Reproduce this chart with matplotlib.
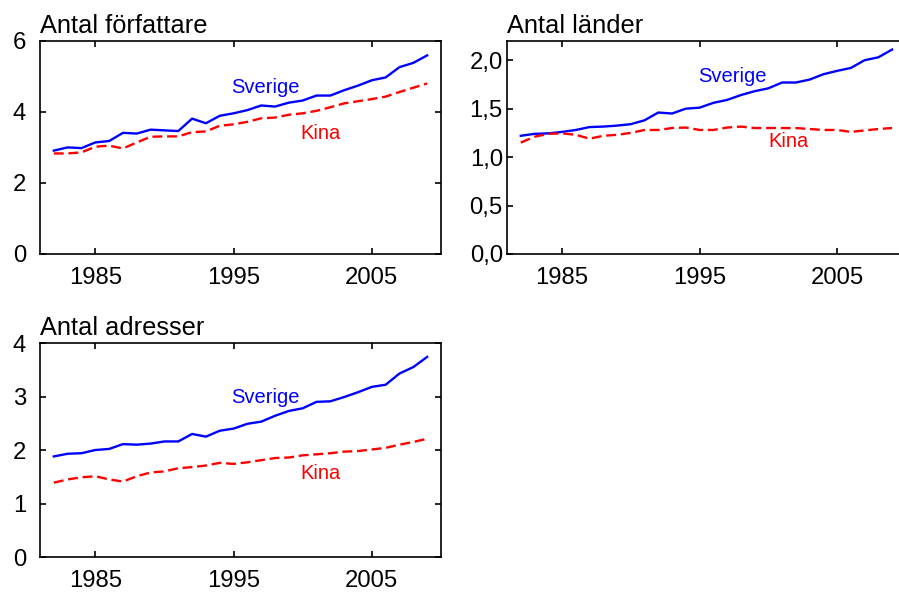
import numpy as np
import matplotlib
matplotlib.use("Agg")
import matplotlib.pyplot as plt
from matplotlib.ticker import FuncFormatter

plt.rcParams['font.family'] = ['Liberation Sans', 'DejaVu Sans']

years = np.arange(1982, 2010)

# Antal författare
forf_sverige = [2.91, 3.00, 2.98, 3.14, 3.18, 3.41, 3.39, 3.50, 3.48, 3.46,
                3.81, 3.68, 3.89, 3.96, 4.05, 4.18, 4.15, 4.26, 4.32, 4.46,
                4.46, 4.61, 4.74, 4.89, 4.97, 5.26, 5.38, 5.59]
forf_kina = [2.83, 2.83, 2.86, 3.02, 3.05, 2.97, 3.14, 3.30, 3.31, 3.31,
             3.43, 3.45, 3.61, 3.65, 3.72, 3.82, 3.84, 3.92, 3.96, 4.03,
             4.13, 4.24, 4.30, 4.36, 4.43, 4.56, 4.68, 4.80]

# Antal länder
land_sverige = [1.22, 1.24, 1.245, 1.26, 1.28, 1.31, 1.315, 1.325, 1.34, 1.38,
                1.46, 1.45, 1.50, 1.51, 1.56, 1.59, 1.64, 1.68, 1.71, 1.77,
                1.77, 1.80, 1.855, 1.89, 1.92, 2.00, 2.03, 2.11]
land_kina = [1.15, 1.21, 1.24, 1.245, 1.23, 1.19, 1.22, 1.23, 1.25, 1.28,
             1.28, 1.30, 1.305, 1.28, 1.28, 1.305, 1.315, 1.30, 1.30, 1.30,
             1.30, 1.29, 1.28, 1.28, 1.26, 1.275, 1.29, 1.30]

# Antal adresser
adr_sverige = [1.88, 1.93, 1.94, 2.00, 2.02, 2.11, 2.10, 2.12, 2.16, 2.16,
               2.30, 2.25, 2.36, 2.40, 2.49, 2.53, 2.64, 2.73, 2.78, 2.90,
               2.91, 2.99, 3.08, 3.18, 3.22, 3.43, 3.55, 3.74]
adr_kina = [1.39, 1.45, 1.49, 1.51, 1.45, 1.41, 1.51, 1.58, 1.60, 1.66,
            1.68, 1.71, 1.76, 1.74, 1.77, 1.81, 1.85, 1.86, 1.90, 1.92,
            1.94, 1.97, 1.98, 2.01, 2.04, 2.10, 2.15, 2.21]

titles = ["Antal författare", "Antal länder", "Antal adresser"]
xticks = [1985, 1995, 2005]

fig = plt.figure(figsize=(8.99, 5.92), dpi=100)

panels = [
    dict(rect=[0.0445, 0.571, 0.446, 0.360], sv=forf_sverige, ki=forf_kina,
         ylim=(0, 6), yticks=[0, 2, 4, 6], fmt=lambda v, p: f"{v:.0f}",
         ypad=10, sv_lab=(1997.3, 4.7), ki_lab=(2001.3, 3.4)),
    dict(rect=[0.564, 0.571, 0.4436, 0.360], sv=land_sverige, ki=land_kina,
         ylim=(0, 2.2), yticks=[0, 0.5, 1.0, 1.5, 2.0],
         fmt=lambda v, p: f"{v:.1f}".replace(".", ","),
         ypad=3, sv_lab=(1997.4, 1.83), ki_lab=(2001.5, 1.16)),
    dict(rect=[0.0445, 0.0591, 0.446, 0.3615], sv=adr_sverige, ki=adr_kina,
         ylim=(0, 4), yticks=[0, 1, 2, 3, 4], fmt=lambda v, p: f"{v:.0f}",
         ypad=10, sv_lab=(1997.3, 2.99), ki_lab=(2001.3, 1.57)),
]

for title, p in zip(titles, panels):
    ax = fig.add_axes(p["rect"])
    ax.plot(years, p["sv"], color="#0000ff", lw=1.7)
    ax.plot(years, p["ki"], color="#ff0000", lw=1.7, dashes=(4.2, 2.0))
    ax.set_xlim(1981, 2010)
    ax.set_ylim(*p["ylim"])
    ax.set_xticks(xticks)
    ax.set_yticks(p["yticks"])
    ax.yaxis.set_major_formatter(FuncFormatter(p["fmt"]))
    ax.tick_params(direction="in", length=4, width=1.2, top=True, right=True,
                   labelsize=17.2)
    ax.tick_params(axis="x", pad=9.5)
    ax.tick_params(axis="y", pad=p["ypad"])
    for s in ax.spines.values():
        s.set_linewidth(1.2)
    ax.text(*p["sv_lab"], "Sverige", color="#0000ff", fontsize=14.5,
            ha="center", va="center")
    ax.text(*p["ki_lab"], "Kina", color="#ff0000", fontsize=14.5,
            ha="center", va="center")
    ax.annotate(title, xy=(0, 1), xycoords="axes fraction", xytext=(0, 6),
                textcoords="offset points", ha="left", va="baseline",
                fontsize=18.3)

fig.savefig("out.png", dpi=100)
